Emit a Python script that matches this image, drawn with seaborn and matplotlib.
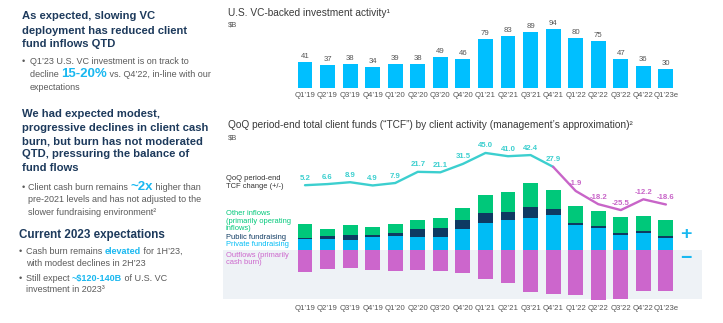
import matplotlib
matplotlib.use("Agg")
import matplotlib.pyplot as plt
import seaborn as sns
import numpy as np
import pandas as pd

# ---------------- data ----------------
quarters = ["Q1’19", "Q2’19", "Q3’19", "Q4’19", "Q1’20", "Q2’20", "Q3’20", "Q4’20",
            "Q1’21", "Q2’21", "Q3’21", "Q4’21", "Q1’22", "Q2’22", "Q3’22", "Q4’22", "Q1’23e"]
vc_investment = [41, 37, 38, 34, 39, 38, 49, 46, 79, 83, 89, 94, 80, 75, 47, 36, 30]

private_fundraising = [16.3, 17.3, 15.2, 20.5, 22.1, 20.0, 20.0, 32.3, 42.9, 47.2, 49.9, 55.2, 38.7, 34.9, 23.2, 25.9, 18.9]
public_fundraising = [2.6, 4.8, 8.5, 3.2, 4.3, 12.3, 14.4, 14.4, 16.0, 12.8, 18.6, 9.1, 3.2, 2.7, 3.7, 4.2, 2.7]
other_inflows = [21.4, 10.2, 16.0, 11.8, 14.4, 14.9, 16.5, 19.2, 28.8, 31.5, 38.4, 30.9, 27.7, 24.5, 25.6, 23.5, 25.6]
outflows = [36.5, 31.7, 29.6, 32.8, 34.4, 32.8, 33.9, 38.1, 46.7, 54.1, 67.5, 70.7, 72.8, 80.8, 79.2, 66.4, 65.9]

tcf_change = [5.2, 6.6, 8.9, 4.9, 7.9, 21.7, 21.1, 31.5, 45.0, 41.0, 42.4, 27.9, -1.9, -18.2, -25.5, -12.2, -18.6]
tcf_labels = ["5.2", "6.6", "8.9", "4.9", "7.9", "21.7", "21.1", "31.5", "45.0", "41.0", "42.4", "27.9",
              "-1.9", "-18.2", "-25.5", "-12.2", "-18.6"]

# ---------------- style ----------------
sns.set_theme(style="white")
plt.rcParams['font.family'] = ['Liberation Sans', 'DejaVu Sans']

CYAN = "#00bfff"
PRIV = "#00bcf5"
NAVY = "#0e3a62"
GREEN = "#00c87a"
ORCHID = "#cc66cc"
TEAL = "#3ccfcf"
MAGENTA = "#c865c8"
HEAD = "#1d3a5c"
BODY = "#5a5a5a"
ACCENT = "#19b8f0"
GREY_BG = "#eef2f6"

W, H = 723, 323
fig = plt.figure(figsize=(W / 100, H / 100), dpi=100)
fig.patch.set_facecolor("white")


def fx(px):
    return px / W


def fy(py):
    return 1 - py / H


renderer = fig.canvas.get_renderer()


def text_w(s, props):
    t = fig.text(0, 0, s, parse_math=False, **props)
    w = t.get_window_extent(renderer).width
    t.remove()
    return w


def seg_w(s, props):
    return text_w("|" + s + "|", props) - text_w("||", props)


def rich(xpx, ypx, parts, base):
    x = xpx
    for txt, kw in parts:
        props = dict(base)
        props.update(kw)
        fig.text(fx(x), fy(ypx), txt, ha="left", va="baseline", parse_math=False, **props)
        x += seg_w(txt, props)


# ---------------- left text panel ----------------
head = dict(fontsize=8.1, fontweight="bold", color=HEAD)
body = dict(fontsize=6.5, color=BODY)
acc = dict(color=ACCENT, fontweight="bold")

for y, s in zip([19, 34, 47], ["As expected, slowing VC", "deployment has reduced client", "fund inflows QTD"]):
    rich(22, y, [(s, {})], head)

fig.text(fx(22), fy(64), "•", va="baseline", ha="left", **body)
rich(30, 64, [("Q1’23 U.S. VC investment is on track to", {})], body)
rich(30, 77, [("decline ", {}), ("15-20%", dict(acc, fontsize=9.5)), (" vs. Q4’22, in-line with our", {})], body)
rich(30, 90, [("expectations", {})], body)

for y, s in zip([117, 131, 144, 157, 171],
                ["We had expected modest,", "progressive declines in client cash",
                 "burn, but burn has not moderated", "QTD, pressuring the balance of", "fund flows"]):
    rich(22, y, [(s, {})], head)

fig.text(fx(22), fy(190), "•", va="baseline", ha="left", **body)
rich(28, 190, [("Client cash burn remains ", {}), ("~2x", dict(acc, fontsize=9.5)), (" higher than", {})], body)
rich(28, 202, [("pre-2021 levels and has not adjusted to the", {})], body)
rich(28, 215, [("slower fundraising environment²", {})], body)

rich(19, 238, [("Current 2023 expectations", {})], dict(head, fontsize=8.4))
fig.text(fx(19), fy(254), "•", va="baseline", ha="left", **body)
rich(26, 254, [("Cash burn remains ", {}), ("elevated", acc), (" for 1H’23,", {})], body)
rich(26, 266, [("with modest declines in 2H’23", {})], body)
fig.text(fx(19), fy(281), "•", va="baseline", ha="left", **body)
rich(26, 281, [("Still expect ", {}), ("~$120-140B", acc), (" of U.S. VC", {})], body)
rich(26, 292, [("investment in 2023³", {})], body)

# ---------------- top chart ----------------
ax_top = fig.add_axes([fx(223), fy(88), fx(479), 68 / H])
df_top = pd.DataFrame({"quarter": quarters, "value": vc_investment})
sns.barplot(data=df_top, x="quarter", y="value", color=CYAN, saturation=1, width=0.66,
            linewidth=0, ax=ax_top)
ax_top.set_xlim(-3.635, 17.6)
ax_top.set_ylim(0, 108.8)
ax_top.bar_label(ax_top.containers[0], labels=[str(v) for v in vc_investment],
                 padding=1.5, fontsize=5.6, color="#555555")
ax_top.set_xlabel("")
ax_top.set_ylabel("")
ax_top.set_yticks([])
ax_top.tick_params(axis="x", length=0, pad=3, labelsize=5.6, labelcolor="#555555")
for sp in ax_top.spines.values():
    sp.set_visible(False)
ax_top.patch.set_alpha(0)

fig.text(fx(228), fy(16.5), "U.S. VC-backed investment activity¹", fontsize=7.3, color="#3a3a3a",
         va="baseline", ha="left")
fig.text(fx(228), fy(26.5), "$B", fontsize=5.5, color="#555555", va="baseline", ha="left",
         parse_math=False)

# ---------------- bottom chart ----------------
ax = fig.add_axes([fx(223), fy(300), fx(479), 160 / H])
df = pd.DataFrame({
    "quarter": quarters,
    "private": private_fundraising,
    "public": public_fundraising,
    "other": other_inflows,
    "out": outflows,
})
df["cum_pub"] = df["private"] + df["public"]
df["cum_other"] = df["cum_pub"] + df["other"]
df["neg_out"] = -df["out"]

ax.axhspan(-79.5, 0, color=GREY_BG, zorder=0, linewidth=0)
bar_kw = dict(x="quarter", saturation=1, width=0.66, linewidth=0, ax=ax, zorder=2)
sns.barplot(data=df, y="cum_other", color=GREEN, **bar_kw)
sns.barplot(data=df, y="cum_pub", color=NAVY, **bar_kw)
sns.barplot(data=df, y="private", color=PRIV, **bar_kw)
sns.barplot(data=df, y="neg_out", color=ORCHID, **bar_kw)
for c in ax.patches:
    c.set_clip_on(False)
ax.set_xlim(-3.635, 17.6)
ax.set_ylim(-80.8, 175.2)
ax.set_xlabel("")
ax.set_ylabel("")
ax.set_yticks([])
ax.tick_params(axis="x", length=0, pad=3.5, labelsize=5.6, labelcolor="#555555")
for sp in ax.spines.values():
    sp.set_visible(False)
ax.patch.set_alpha(0)

# TCF change line on twin axis
ax2 = ax.twinx()
idx = np.arange(len(tcf_change))
split = 11
sns.lineplot(x=idx[:split + 1], y=tcf_change[:split + 1], color=TEAL, linewidth=1.7, ax=ax2)
sns.lineplot(x=idx[split:], y=tcf_change[split:], color=MAGENTA, linewidth=1.7, ax=ax2)
ax2.set_ylim(-136.5, 61)
ax2.set_xlim(-3.635, 17.6)
ax2.set_yticks([])
ax2.set_ylabel("")
for sp in ax2.spines.values():
    sp.set_visible(False)
for i, (v, lab) in enumerate(zip(tcf_change, tcf_labels)):
    col = TEAL if v > 0 else MAGENTA
    ax2.annotate(lab, (i, v), xytext=(0, 2.5), textcoords="offset points", ha="center",
                 va="bottom", fontsize=5.6, fontweight="bold", color=col)

fig.text(fx(228), fy(128.5), "QoQ period-end total client funds (“TCF”) by client activity (management’s approximation)²",
         fontsize=7.3, color="#3a3a3a", va="baseline", ha="left")
fig.text(fx(228), fy(139.5), "$B", fontsize=5.5, color="#555555", va="baseline", ha="left",
         parse_math=False)

small = dict(fontsize=5.4, va="baseline", ha="left")
fig.text(fx(226), fy(180), "QoQ period-end", color="#333333", **small)
fig.text(fx(226), fy(188), "TCF change (+/-)", color="#333333", **small)
fig.text(fx(226), fy(215), "Other inflows", color=GREEN, **small)
fig.text(fx(226), fy(223), "(primarily operating", color=GREEN, **small)
fig.text(fx(226), fy(230), "inflows)", color=GREEN, **small)
fig.text(fx(226), fy(239), "Public fundraising", color=NAVY, **small)
fig.text(fx(226), fy(246), "Private fundraising", color=PRIV, **small)
fig.text(fx(226), fy(257), "Outflows (primarily", color=ORCHID, **small)
fig.text(fx(226), fy(264), "cash burn)", color=ORCHID, **small)

fig.text(fx(686), fy(234), "+", fontsize=14, fontweight="bold", color=ACCENT, ha="center", va="center")
fig.text(fx(686), fy(258), "−", fontsize=14, fontweight="bold", color=ACCENT, ha="center", va="center")

fig.savefig("out.png", dpi=100, facecolor="white")
